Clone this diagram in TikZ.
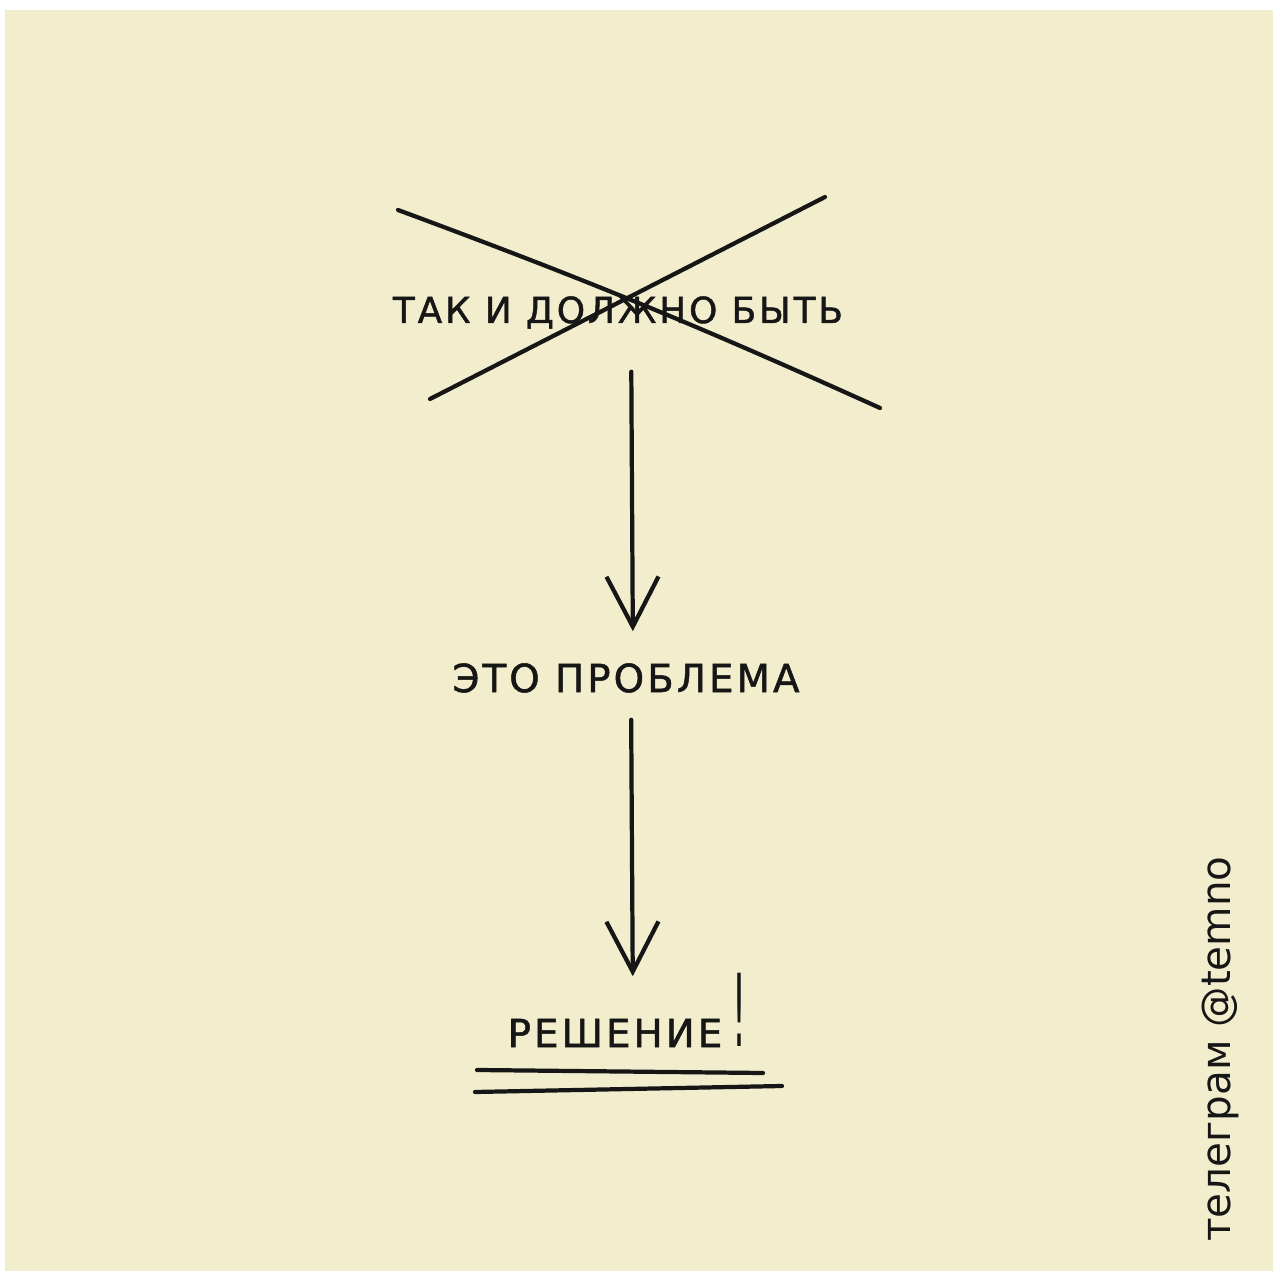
\documentclass[tikz,border=0pt]{standalone}
\usepackage{fontspec}
\setmainfont{DejaVu Sans}
\newfontfamily\handfont[LetterSpace=8, FakeBold=1.3]{DejaVu Sans}
\usetikzlibrary{arrows.meta, positioning}
\definecolor{paper}{RGB}{242,237,204}
\definecolor{ink}{RGB}{22,22,22}

\begin{document}
\begin{tikzpicture}[
    x=0.01cm, y=-0.01cm,
    >={Straight Barb[length=5mm, width=5.2mm]},
    hand/.style={font=\handfont\fontsize{11pt}{13pt}\selectfont, text=ink,
                 inner sep=0pt, text height=8pt, text depth=0pt},
    tag/.style={font=\fontsize{11.5pt}{13pt}\selectfont, text=ink,
                inner sep=0pt},
    pen/.style={draw=ink, line width=1.2pt, line cap=round, line join=round}
  ]
  \useasboundingbox (0,0) rectangle (1273,1271);
  \fill[white] (0,0) rectangle (1273,1271);
  \fill[paper] (5,10) rectangle (1273,1271);

  \node[hand, font=\handfont\fontsize{10.2pt}{12pt}\selectfont,
        text height=7.4pt] (bad) at (618,310) {ТАК И ДОЛЖНО БЫТЬ};
  \node[hand] (prob) at (626,678) {ЭТО ПРОБЛЕМА};
  \node[hand] (sol) at (615,1033) {РЕШЕНИЕ};
  \node[text=ink, inner sep=0pt, anchor=south, font=\fontsize{11pt}{13pt}\selectfont]
    (excl) at (739,1047) {\scalebox{0.9}[2.6]{!}};

  % crossed out
  \draw[pen] (398,210) to[bend left=2] (880,408);
  \draw[pen] (430,399) -- (825,197);

  \draw[pen, ->, shorten <=0.48cm, shorten >=0.32cm]
    ([xshift=0.13cm]bad.south) -- ([xshift=0.07cm]prob.north);
  \draw[pen, ->, shorten <=0.27cm, shorten >=0.42cm]
    ([xshift=0.05cm]prob.south) -- ([xshift=0.18cm]sol.north);

  % double underline
  \draw[pen] (477,1070) -- (763,1073);
  \draw[pen] (475,1092) -- (782,1086);

  \node[tag, rotate=90, anchor=base] (tg) at (1230,1049) {телеграм @temno};
\end{tikzpicture}
\end{document}
